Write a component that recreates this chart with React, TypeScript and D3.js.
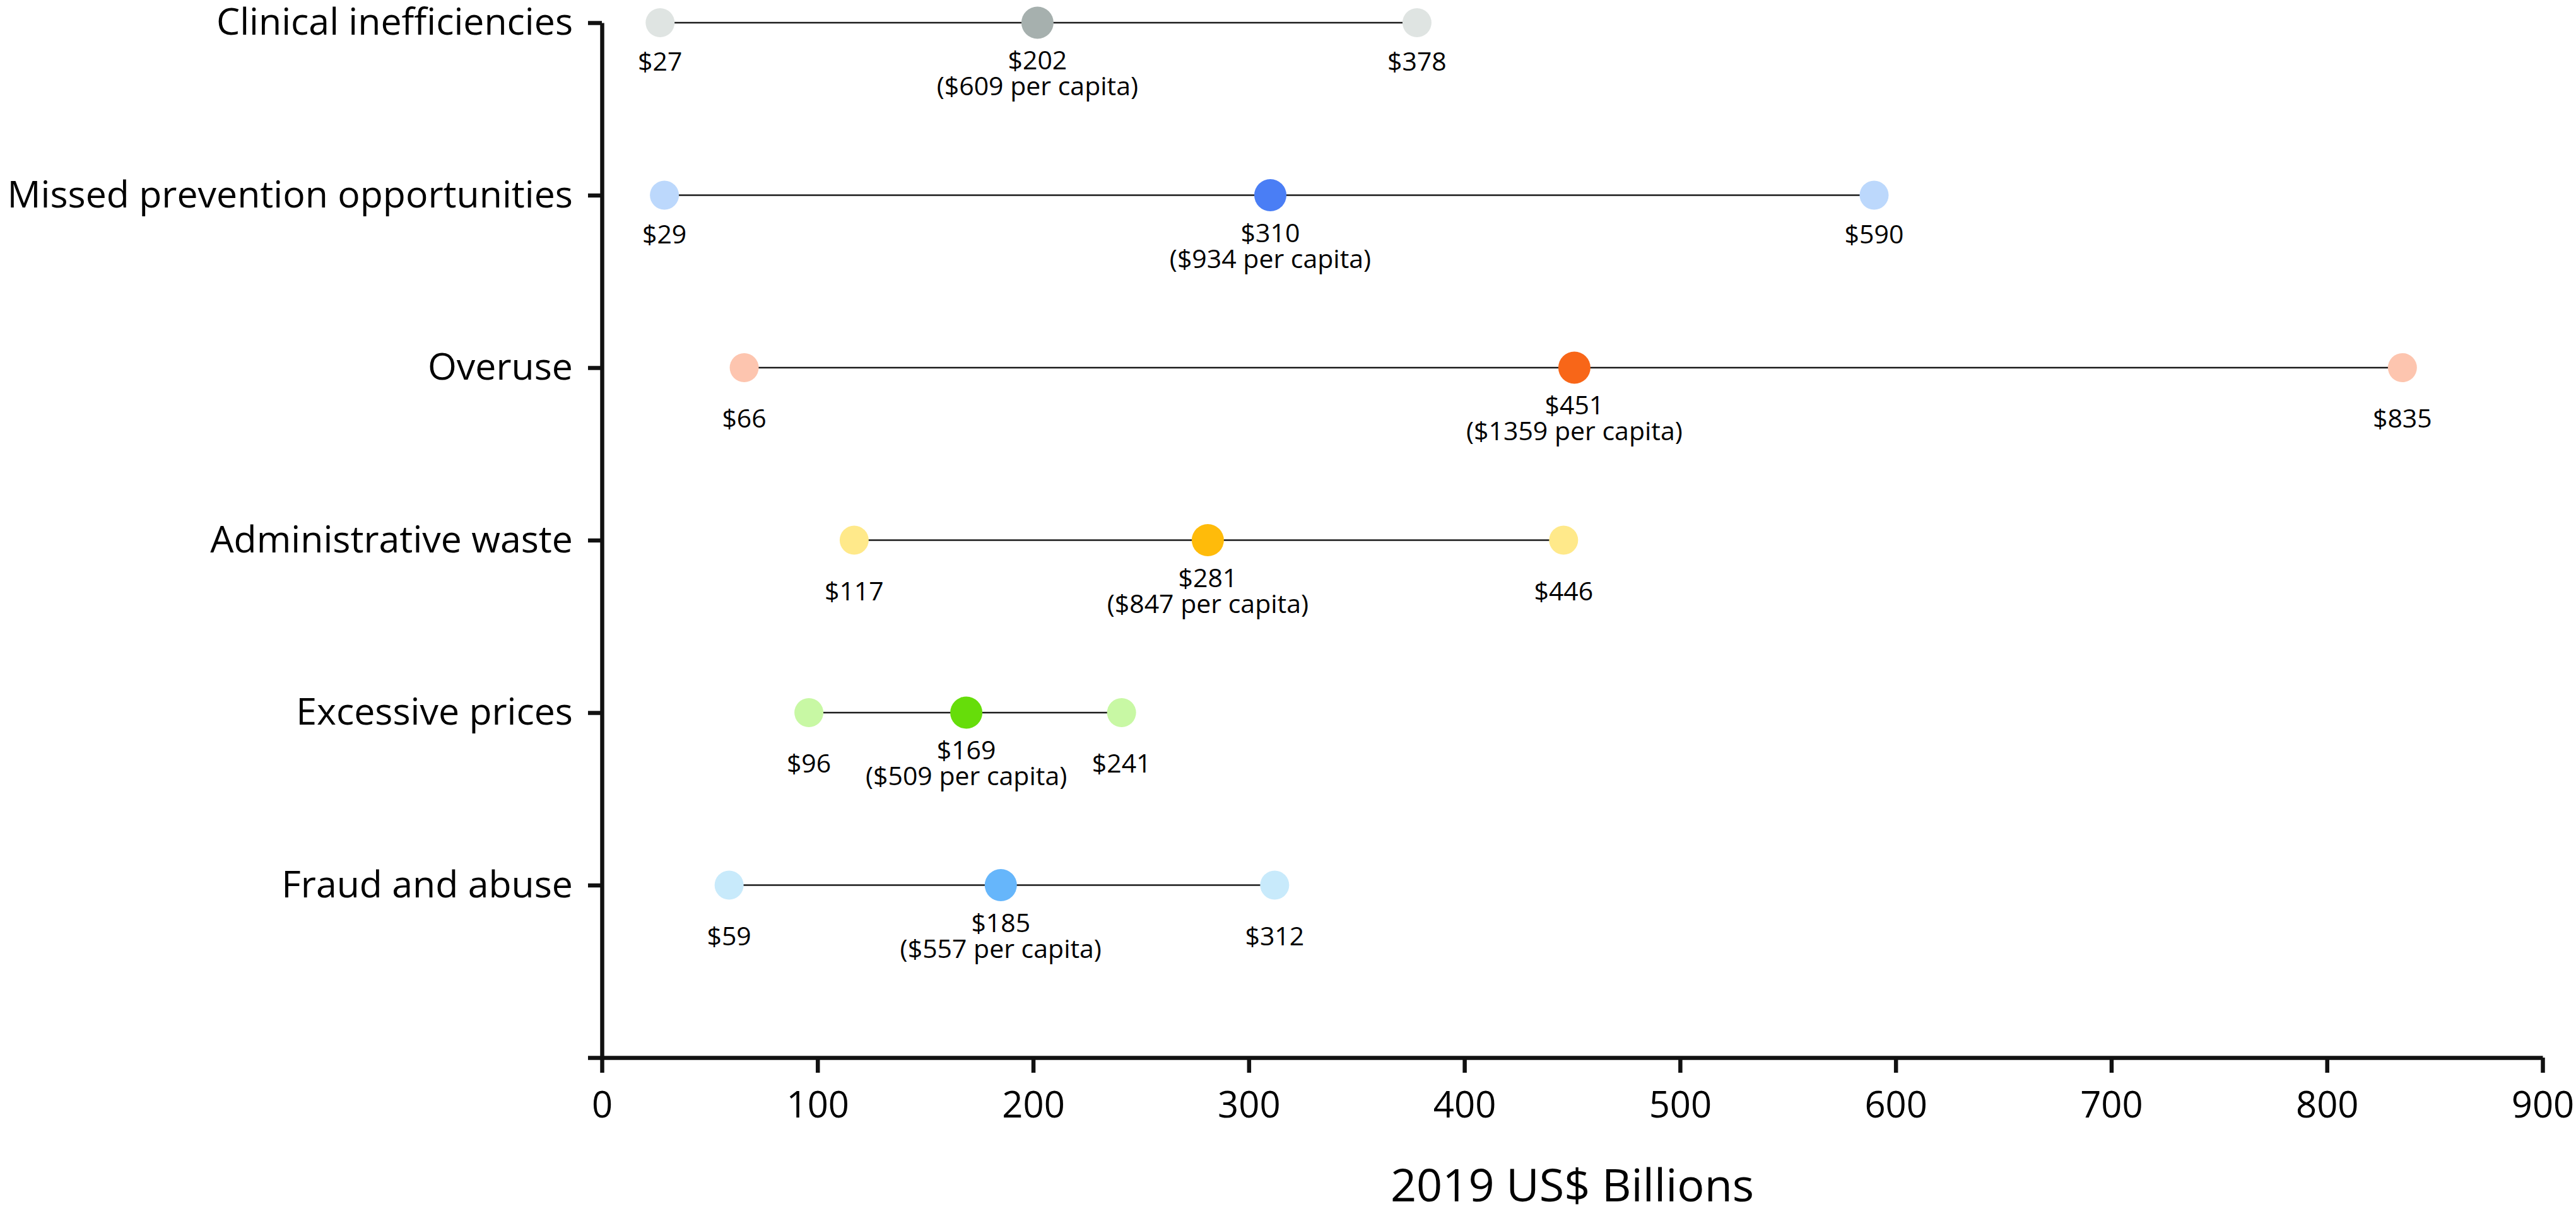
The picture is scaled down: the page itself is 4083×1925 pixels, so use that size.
import React, { useEffect, useRef } from "react";
import * as d3 from "d3";

const categories = [
  "Clinical inefficiencies",
  "Missed prevention opportunities",
  "Overuse",
  "Administrative waste",
  "Excessive prices",
  "Fraud and abuse",
];
const lowValues = [27, 29, 66, 117, 96, 59];
const midValues = [202, 310, 451, 281, 169, 185];
const highValues = [378, 590, 835, 446, 241, 312];
const perCapita = [609, 934, 1359, 847, 509, 557];
const darkColors = ["#a6b0ae", "#4a7ef5", "#f86618", "#ffbb0a", "#66dd0a", "#66b6fb"];
const lightColors = ["#dfe4e2", "#bcd8fc", "#fdc5af", "#ffe98a", "#c8f8a4", "#c8eafb"];
const xTicks = [0, 100, 200, 300, 400, 500, 600, 700, 800, 900];
const xTitle = "2019 US$ Billions";
const lowEndLabelRows = ["Overuse", "Administrative waste", "Excessive prices", "Fraud and abuse"];

const W = 4083;
const H = 1925;
const FONT = "'Open Sans', 'Noto Sans', sans-serif";
const END_KEY = "__end__";

export default function App() {
  const xAxisRef = useRef<SVGGElement>(null);
  const yAxisRef = useRef<SVGGElement>(null);

  const x = d3.scaleLinear().domain([0, 900]).range([954, 4030]);
  const y = d3.scalePoint<string>().domain([...categories, END_KEY]).range([36, 1677]);
  const axisY = y(END_KEY) as number;

  useEffect(() => {
    document.body.style.margin = "0";
    if (xAxisRef.current) {
      const g = d3.select(xAxisRef.current);
      g.selectAll("*").remove();
      g.call(
        d3.axisBottom(x).tickValues(xTicks).tickSize(24).tickSizeOuter(0).tickPadding(30).tickFormat(d3.format("d"))
      );
      g.select(".domain").attr("stroke", "#111").attr("stroke-width", 6.5);
      g.selectAll(".tick line").attr("stroke", "#111").attr("stroke-width", 6.5);
      g.selectAll(".tick text").attr("fill", "#000").attr("font-size", 58).attr("font-family", FONT);
    }
    if (yAxisRef.current) {
      const g = d3.select(yAxisRef.current);
      g.selectAll("*").remove();
      g.call(
        d3.axisLeft(y).tickSize(22).tickSizeOuter(0).tickPadding(24).tickFormat((d) => (d === END_KEY ? "" : d))
      );
      g.select(".domain").attr("stroke", "#111").attr("stroke-width", 6.5);
      g.selectAll(".tick line").attr("stroke", "#111").attr("stroke-width", 6.5);
      g.selectAll(".tick text").attr("fill", "#000").attr("font-size", 59).attr("font-family", FONT);
    }
  }, []);

  return (
    <svg
      width={W}
      height={H}
      style={{ position: "absolute", left: 0, top: 0, display: "block", background: "#fff" }}
    >
      <rect x={0} y={0} width={W} height={H} fill="#fff" />
      {categories.map((c, i) => {
        const cy = y(c) as number;
        const endDy = lowEndLabelRows.includes(c) ? 95 : 76;
        return (
          <g key={c}>
            <line
              x1={x(lowValues[i])}
              x2={x(highValues[i])}
              y1={cy}
              y2={cy}
              stroke="#1a1a1a"
              strokeWidth={2.6}
            />
            <circle cx={x(lowValues[i])} cy={cy} r={23} fill={lightColors[i]} />
            <circle cx={x(highValues[i])} cy={cy} r={23} fill={lightColors[i]} />
            <circle cx={x(midValues[i])} cy={cy} r={25.5} fill={darkColors[i]} />
            <text x={x(lowValues[i])} y={cy + endDy} textAnchor="middle" fontSize={41} fontFamily={FONT} fill="#000">
              {`$${lowValues[i]}`}
            </text>
            <text x={x(highValues[i])} y={cy + endDy} textAnchor="middle" fontSize={41} fontFamily={FONT} fill="#000">
              {`$${highValues[i]}`}
            </text>
            <text x={x(midValues[i])} y={cy + 74} textAnchor="middle" fontSize={41} fontFamily={FONT} fill="#000">
              {`$${midValues[i]}`}
            </text>
            <text x={x(midValues[i])} y={cy + 115} textAnchor="middle" fontSize={41} fontFamily={FONT} fill="#000">
              {`($${perCapita[i]} per capita)`}
            </text>
          </g>
        );
      })}
      <g ref={yAxisRef} transform={`translate(${x(0)},0)`} />
      <g ref={xAxisRef} transform={`translate(0,${axisY})`} />
      <text
        x={(x(0) + x(900)) / 2}
        y={1905}
        textAnchor="middle"
        fontSize={72}
        fontFamily={FONT}
        fill="#000"
      >
        {xTitle}
      </text>
    </svg>
  );
}
